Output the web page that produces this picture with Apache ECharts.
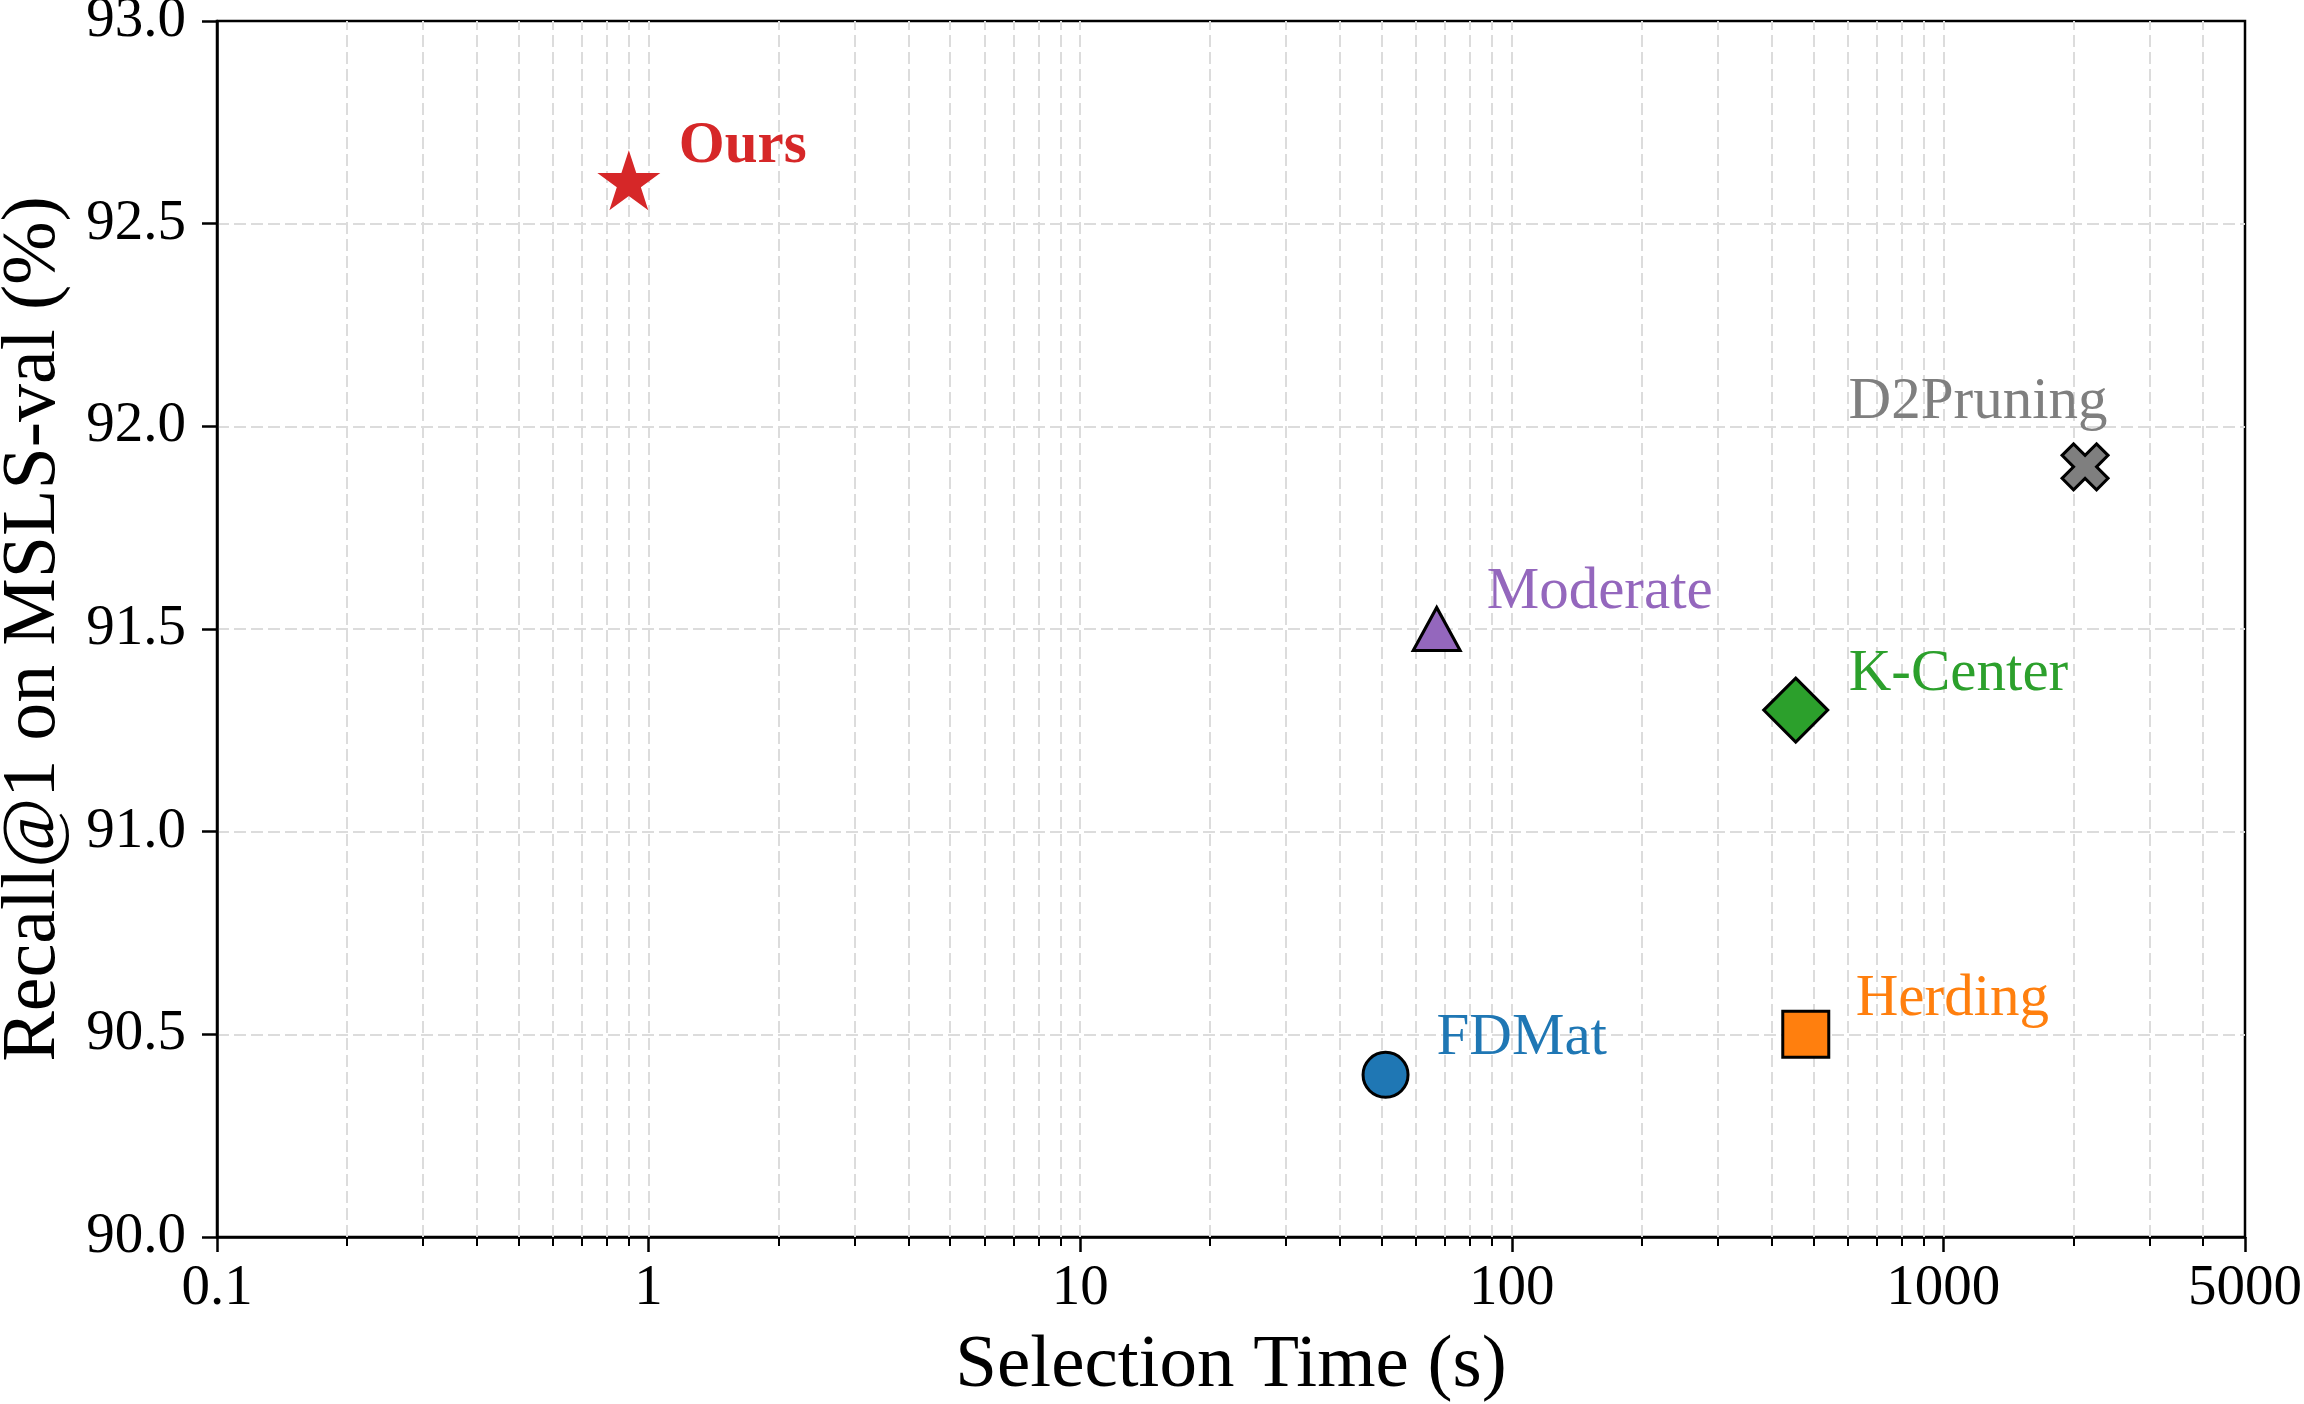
<!DOCTYPE html>
<html>
<head>
<meta charset="utf-8">
<script src="https://cdn.jsdelivr.net/npm/echarts@6/dist/echarts.min.js"></script>
<style>
  html, body { margin: 0; padding: 0; background: #fff; }
  #chart { width: 2304px; height: 1404px; }
</style>
</head>
<body>
<div id="chart"></div>
<script>
  // data
  const methods = ['Ours', 'FDMat', 'Moderate', 'K-Center', 'Herding', 'D2Pruning'];
  const selectionTime = [0.9, 51, 67, 455, 480, 2130];   // seconds
  const recallAt1 = [92.6, 90.4, 91.5, 91.3, 90.5, 91.9]; // %

  const xMajorTicks = [0.1, 1, 10, 100, 1000, 5000];
  const xMinorTicks = [0.2, 0.3, 0.4, 0.5, 0.6, 0.7, 0.8, 0.9,
                       2, 3, 4, 5, 6, 7, 8, 9,
                       20, 30, 40, 50, 60, 70, 80, 90,
                       200, 300, 400, 500, 600, 700, 800, 900,
                       2000, 3000, 4000];

  const STAR = 'path://M50,0L61.23,34.55L97.55,34.55L68.17,55.9L79.39,90.45L50,69.1L20.61,90.45L31.83,55.9L2.45,34.55L38.77,34.55Z';
  const XMARK = 'path://M0,2.5L2.5,0L5,2.5L7.5,0L10,2.5L7.5,5L10,7.5L7.5,10L5,7.5L2.5,10L0,7.5L2.5,5Z';

  // marker look per method
  const looks = {
    'Ours':      { color: '#d62728', symbol: STAR,       size: [63, 60], edge: 0, shift: [0, -3], offset: [50, -33], align: 'left', bold: true },
    'FDMat':     { color: '#1f77b4', symbol: 'circle',   size: 45, edge: 3, shift: [0, 0], offset: [51, -36], align: 'left' },
    'Moderate':  { color: '#9467bd', symbol: 'triangle', size: [47, 43], edge: 3, shift: [0, 0], offset: [50, -37], align: 'left' },
    'K-Center':  { color: '#2ca02c', symbol: 'diamond',  size: [64, 64], edge: 3, shift: [0, 0], offset: [53, -36], align: 'left' },
    'Herding':   { color: '#ff7f0e', symbol: 'rect',     size: 46, edge: 3, shift: [0, 0], offset: [50, -35], align: 'left' },
    'D2Pruning': { color: '#7f7f7f', symbol: XMARK,      size: 46, edge: 3, shift: [0, 0], offset: [-107, -64], align: 'center' }
  };

  const FONT = 'Liberation Serif';
  const gridDash = { color: '#dcdcdc', width: 2, type: [12, 5] };

  const pointSeries = methods.map((name, i) => {
    const lk = looks[name];
    return {
      name: name,
      type: 'scatter',
      z: 5,
      symbol: lk.symbol,
      symbolSize: lk.size,
      symbolOffset: lk.shift,
      itemStyle: { color: lk.color, opacity: 1, borderColor: '#000', borderWidth: lk.edge },
      label: {
        show: true,
        position: 'inside',
        formatter: name,
        align: lk.align,
        verticalAlign: 'middle',
        offset: lk.offset,
        color: lk.color,
        opacity: 1,
        fontFamily: FONT,
        fontSize: 59,
        fontWeight: lk.bold ? 'bold' : 'normal'
      },
      data: [[selectionTime[i], recallAt1[i]]]
    };
  });

  // vertical grid lines at inner major + minor ticks
  const gridX = xMajorTicks.slice(1, -1).concat(xMinorTicks);
  const gridSeries = {
    type: 'scatter',
    z: 1,
    silent: true,
    data: [],
    markLine: {
      silent: true,
      symbol: 'none',
      label: { show: false },
      lineStyle: gridDash,
      animation: false,
      data: gridX.map(v => ({ xAxis: v }))
    }
  };

  const chart = echarts.init(document.getElementById('chart'));
  chart.setOption({
    animation: false,
    grid: {
      left: 217, right: 59, top: 21, bottom: 167,
      containLabel: false,
      outerBoundsMode: 'none',
      show: true, borderColor: '#000', borderWidth: 2.5, backgroundColor: 'transparent'
    },
    xAxis: [{
      type: 'log',
      logBase: 10,
      min: 0.1,
      max: 5000,
      name: 'Selection Time (s)',
      nameLocation: 'middle',
      nameGap: 92,
      nameTextStyle: { fontFamily: FONT, fontSize: 75, color: '#000' },
      axisLine: { show: true, lineStyle: { color: '#000', width: 2.5 } },
      axisTick: { show: true, length: 15, lineStyle: { color: '#000', width: 2.5 }, customValues: xMajorTicks },
      axisLabel: {
        customValues: xMajorTicks,
        margin: 24,
        fontFamily: FONT, fontSize: 57, color: '#000',
        formatter: v => String(+Number(v).toPrecision(6))
      },
      splitLine: { show: false },
      minorTick: { show: false }
    }, {
      type: 'log',
      logBase: 10,
      min: 0.1,
      max: 5000,
      position: 'bottom',
      axisLine: { show: false },
      axisTick: { show: true, length: 9, lineStyle: { color: '#000', width: 2 }, customValues: xMinorTicks },
      axisLabel: { show: false },
      splitLine: { show: false }
    }],
    yAxis: {
      type: 'value',
      min: 90,
      max: 93,
      interval: 0.5,
      name: 'Recall@1 on MSLS-val (%)',
      nameLocation: 'middle',
      nameGap: 145,
      nameTextStyle: { fontFamily: FONT, fontSize: 76, color: '#000' },
      axisLine: { show: true, lineStyle: { color: '#000', width: 2.5 } },
      axisTick: { show: true, length: 15, lineStyle: { color: '#000', width: 2.5 } },
      axisLabel: {
        margin: 31,
        fontFamily: FONT, fontSize: 57, color: '#000',
        formatter: v => v.toFixed(1)
      },
      splitLine: { show: true, showMinLine: false, showMaxLine: false, lineStyle: gridDash }
    },
    series: [gridSeries].concat(pointSeries)
  });
</script>
</body>
</html>
